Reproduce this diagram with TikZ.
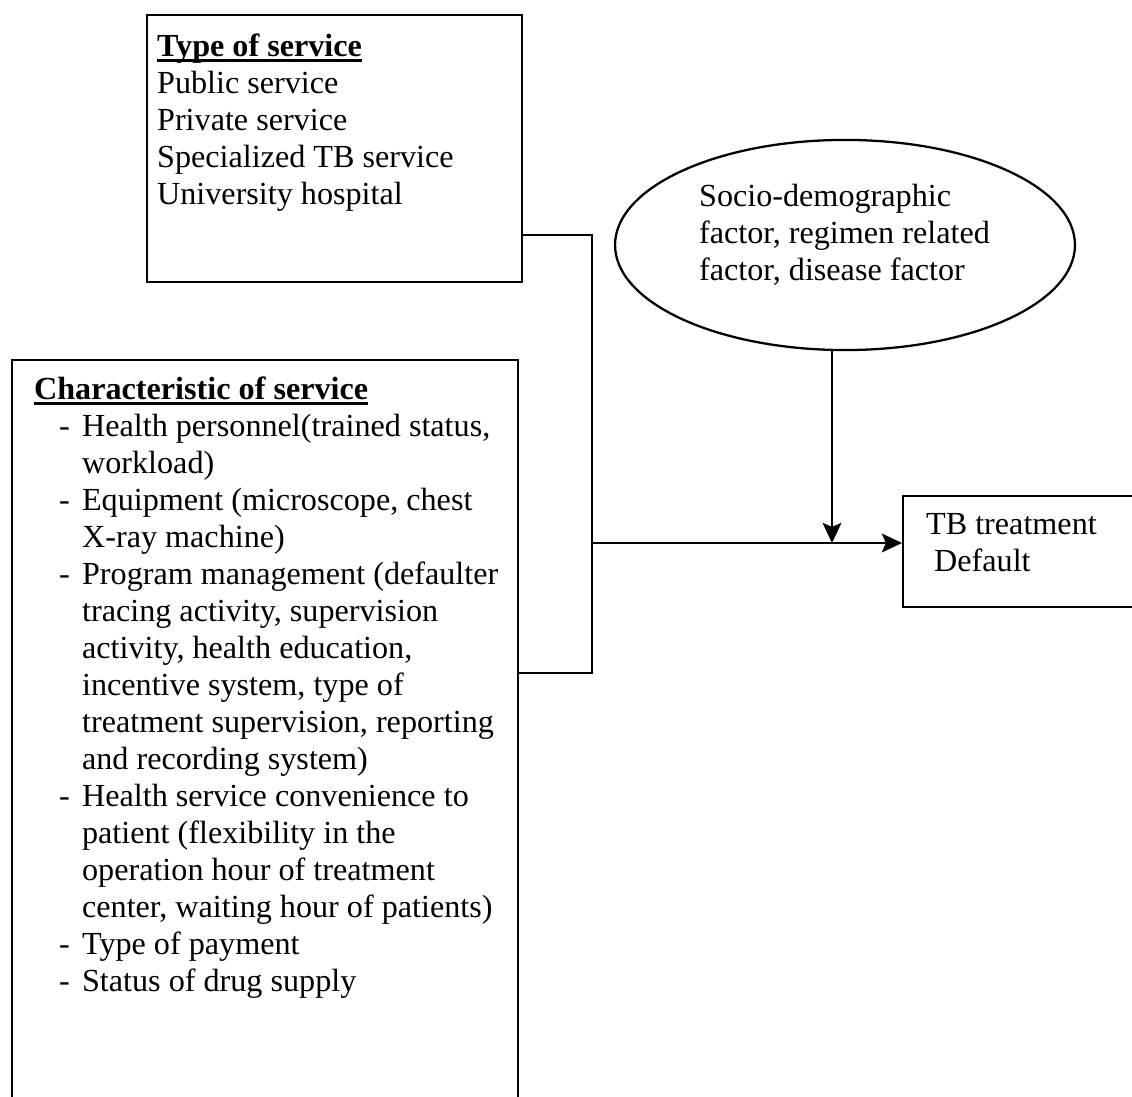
\documentclass[tikz,border=0pt]{standalone}
\usepackage{fontspec}
\setmainfont{Liberation Serif}
\usetikzlibrary{shapes.geometric,arrows.meta,calc}
\tikzset{every node/.style={inner sep=0pt, font=\fontsize{12}{13.8}\selectfont}}
\tikzset{box/.style={draw, rectangle, anchor=north west}, arr/.style={-{Stealth[length=7.5pt,width=7pt,inset=1.5pt]}}}
\newcommand{\textlines}[1]{\begin{tabular}[t]{@{}l@{}}#1\end{tabular}}
\newcommand{\headline}[1]{\setbox0\hbox{\textbf{#1}}\rlap{\rule[-1.8pt]{\wd0}{0.9pt}}\box0}
\newcommand{\tbitem}{\makebox[17.9pt][l]{\hspace{9.3pt}-}}
\newcommand{\tbcont}{\hspace*{17.9pt}}

\begin{document}
\begin{tikzpicture}[x=0.3731pt,y=-0.3731pt,line width=0.85pt]
  \useasboundingbox (0,0) rectangle (1132,1097);
  \clip (0,0) rectangle (1132,1097);
  % boxes
  \node[box, minimum width=139.9pt, minimum height=99.6pt] (type) at (146,14) {};
  \node[box, minimum width=188.8pt, minimum height=290pt] (char) at (11,359) {};
  \node[box, minimum width=130pt, minimum height=41.4pt] (tb) at (902,495) {};
  \node[draw, ellipse, minimum width=171.6pt, minimum height=78.4pt] (soc) at (845,245) {};
  % texts
  \node[anchor=base west] (typetxt) at (156,57) {\textlines{\headline{Type of service}\\
    Public service\\
    Private service\\
    Specialized TB service\\
    University hospital}};
  \node[anchor=base west] (chartxt) at (33,400) {\textlines{\headline{Characteristic of service}\\
    \tbitem Health personnel(trained status,\\
    \tbcont workload)\\
    \tbitem Equipment (microscope, chest\\
    \tbcont X-ray machine)\\
    \tbitem Program management (defaulter\\
    \tbcont tracing activity, supervision\\
    \tbcont activity, health education,\\
    \tbcont incentive system, type of\\
    \tbcont treatment supervision, reporting\\
    \tbcont and recording system)\\
    \tbitem Health service convenience to\\
    \tbcont patient (flexibility in the\\
    \tbcont operation hour of treatment\\
    \tbcont center, waiting hour of patients)\\
    \tbitem Type of payment\\
    \tbitem Status of drug supply}};
  \node[anchor=base west] (soctxt) at (698,207) {\textlines{Socio-demographic\\
    factor, regimen related\\
    factor, disease factor}};
  \node[anchor=base west] (tbtxt) at (925,535) {\textlines{TB treatment\\ \ Default}};
  % connectors
  \coordinate (brk) at (592,543);
  \coordinate (join) at (832,543);
  \draw ($(type.south east)+(0,-48)$) -| (brk) |- ($(char.north east)+(0,314)$);
  \draw[arr] (brk) -- (tb.west |- brk);
  \draw[arr] (soc.south -| join) -- (join);
\end{tikzpicture}
\end{document}
